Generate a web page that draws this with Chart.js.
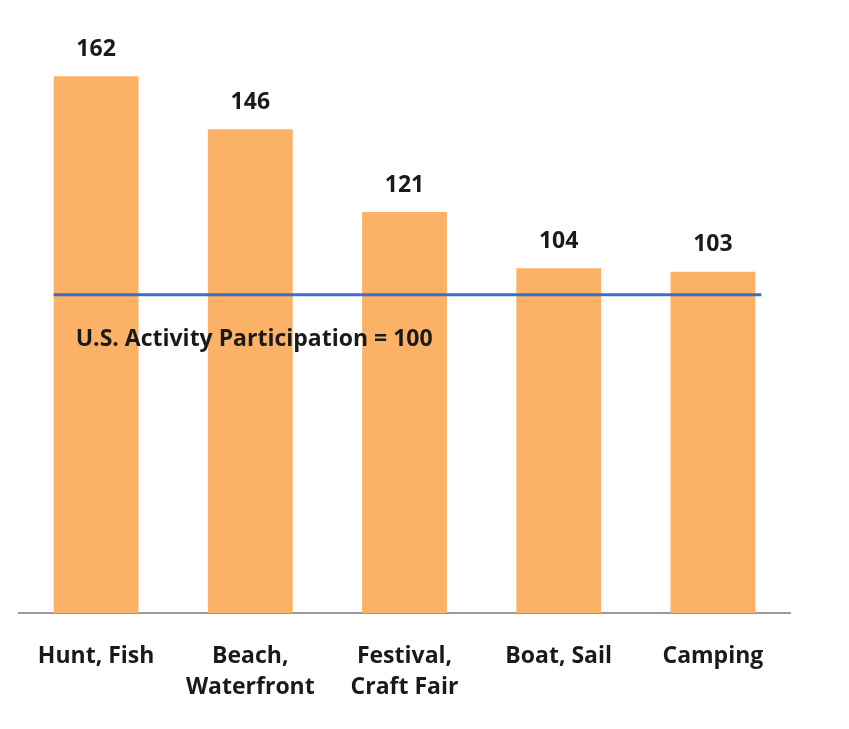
<!DOCTYPE html>
<html>
<head>
<meta charset="utf-8">
<script src="https://cdn.jsdelivr.net/npm/chart.js@4"></script>
<style>
  html, body { margin: 0; padding: 0; background: #fff; }
  #wrap { width: 849px; height: 729px; }
</style>
</head>
<body>
<div id="wrap"><canvas id="chart"></canvas></div>
<script>
// カテゴリと値
const categories = [["Hunt, Fish"], ["Beach,", "Waterfront"], ["Festival,", "Craft Fair"], ["Boat, Sail"], ["Camping"]];
const values = [162, 146, 121, 104, 103];
// 基準線 (絵の中では棒のスケールで約96の位置に引かれている)
const referenceLine = 96;
const referenceLabel = "U.S. Activity Participation = 100";

const FONT = "'Open Sans', 'Liberation Sans', sans-serif";

// 棒の上の数値と基準線を描くプラグイン
const overlay = {
  id: "overlay",
  afterDatasetsDraw(chart) {
    const ctx = chart.ctx;
    const meta = chart.getDatasetMeta(0);
    const y = chart.scales.y;

    ctx.save();
    ctx.fillStyle = "#1a1a1a";
    ctx.font = "bold 23px " + FONT;
    ctx.textAlign = "center";
    ctx.textBaseline = "middle";
    meta.data.forEach((bar, i) => {
      ctx.fillText(values[i], bar.x, bar.y - 27);
    });

    // 基準線: 最初の棒の左端から最後の棒の右端まで
    const first = meta.data[0];
    const last = meta.data[meta.data.length - 1];
    const ly = y.getPixelForValue(referenceLine);
    ctx.strokeStyle = "#3b6fc2";
    ctx.lineWidth = 3;
    ctx.beginPath();
    ctx.moveTo(first.x - first.width / 2, ly);
    ctx.lineTo(last.x + last.width / 2 + 6, ly);
    ctx.stroke();

    ctx.textAlign = "left";
    ctx.fillText(referenceLabel, first.x - first.width / 2 + 22, ly + 45);
    ctx.restore();
  },
};

new Chart(document.getElementById("chart"), {
  type: "bar",
  data: {
    labels: categories,
    datasets: [
      {
        data: values,
        backgroundColor: "#fbb267",
        categoryPercentage: 1,
        barPercentage: 0.55,
      },
    ],
  },
  options: {
    responsive: true,
    maintainAspectRatio: false,
    animation: false,
    layout: { padding: { left: 19, right: 59, top: 0, bottom: 6 } },
    scales: {
      x: {
        grid: { display: false },
        border: { display: true, color: "#9a9a9a", width: 2 },
        ticks: {
          color: "#1a1a1a",
          font: { family: FONT, size: 23, weight: "bold", lineHeight: 1.35 },
          padding: 20,
          maxRotation: 0,
          autoSkip: false,
        },
      },
      y: {
        display: false,
        min: 0,
        max: 185,
      },
    },
    plugins: {
      legend: { display: false },
      tooltip: { enabled: false },
    },
  },
  plugins: [overlay],
});
</script>
</body>
</html>
